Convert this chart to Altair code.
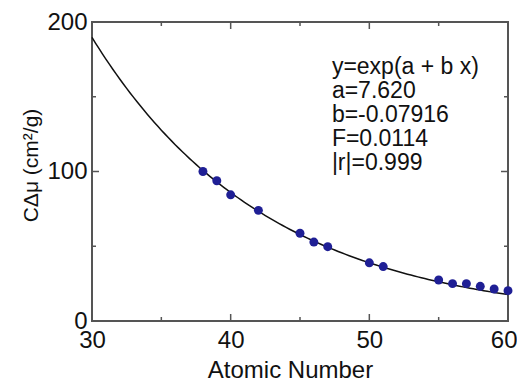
import altair as alt
import pandas as pd

# data
atomic_number = [38, 39, 40, 42, 45, 46, 47, 50, 51, 55, 56, 57, 58, 59, 60]
c_delta_mu = [100.0, 93.8, 84.4, 74.0, 58.7, 52.8, 49.7, 38.9, 36.4, 27.4, 25.0, 25.0, 23.2, 21.4, 20.3]

# fitted curve parameters shown on the chart: y = exp(a + b x)
fit_a = 7.620
fit_b = -0.07916

x_major = [30, 40, 50, 60]
x_minor = [35, 45, 55]
y_major = [0, 100, 200]
y_minor = [50, 150]

fit_lines = ["y=exp(a + b x)", "a=7.620", "b=-0.07916", "F=0.0114", "|r|=0.999"]

df = pd.DataFrame({"x": atomic_number, "y": c_delta_mu})

FONT = "Liberation Sans"
xs = alt.Scale(domain=[30, 60], nice=False, zero=False)
ys = alt.Scale(domain=[0, 200], nice=False)

points = alt.Chart(df).mark_circle(size=80, opacity=1, color="#1f1f95").encode(
    x=alt.X("x:Q", scale=xs,
            axis=alt.Axis(values=x_major, title="Atomic Number", domain=False, ticks=False,
                          grid=False, labelPadding=7, labelFontSize=24, labelFont=FONT,
                          labelColor="#111", titleFont=FONT, titleFontSize=24,
                          titleFontWeight="normal", titleColor="#111", titlePadding=6,
                          titleX=198, labelFlush=False,
                          labelAlign={"condition": {"test": "datum.value == 60", "value": "right"},
                                      "value": "center"},
                          labelOffset={"condition": {"test": "datum.value == 60", "value": 9},
                                       "value": 0})),
    y=alt.Y("y:Q", scale=ys,
            axis=alt.Axis(values=y_major, title="CΔμ (cm²/g)", domain=False, ticks=False,
                          grid=False, labelPadding=5, labelFontSize=24, labelFont=FONT,
                          labelColor="#111", titleFont=FONT, titleFontSize=21,
                          titleFontWeight="normal", titleColor="#111", titlePadding=5,
                          titleY=143, labelFlush=False)),
)

curve = alt.Chart(alt.sequence(30, 60.1, 0.25, as_="x")).transform_calculate(
    y=f"exp({fit_a} + ({fit_b}) * datum.x)"
).mark_line(color="#111", strokeWidth=1.5).encode(
    x=alt.X("x:Q", scale=xs), y=alt.Y("y:Q", scale=ys))

TICK_COLOR = "#555"

def xticks(vals, length):
    d = pd.DataFrame({"t": vals})
    out = []
    for yv, off in ((0, -length), (200, length)):
        out.append(alt.Chart(d).mark_rule(strokeWidth=1.5, color=TICK_COLOR, y2Offset=off).encode(
            x=alt.X("t:Q", scale=xs), y=alt.YDatum(yv, scale=ys), y2=alt.Y2Datum(yv)))
    return out

def yticks(vals, length):
    d = pd.DataFrame({"t": vals})
    out = []
    for xv, off in ((30, length), (60, -length)):
        out.append(alt.Chart(d).mark_rule(strokeWidth=1.5, color=TICK_COLOR, x2Offset=off).encode(
            y=alt.Y("t:Q", scale=ys), x=alt.XDatum(xv, scale=xs), x2=alt.X2Datum(xv)))
    return out

ticks = xticks(x_major, 7) + xticks(x_minor, 4) + yticks(y_major, 7) + yticks(y_minor, 4)

ann = alt.Chart(pd.DataFrame({"x": [47.3], "y": [165.0]})).mark_text(
    align="left", baseline="alphabetic", font=FONT, fontSize=23, lineHeight=24, color="#111",
    text=fit_lines
).encode(x=alt.X("x:Q", scale=xs), y=alt.Y("y:Q", scale=ys))

chart = alt.layer(curve, *ticks, points, ann).properties(
    width=416, height=299,
    autosize=alt.AutoSizeParams(type="none"),
    padding={"left": 84, "top": 14, "right": 9, "bottom": 62},
    background="white",
).configure_view(stroke="#555", strokeWidth=2)

chart.save("out.html", embed_options={"renderer": "svg", "actions": False})
